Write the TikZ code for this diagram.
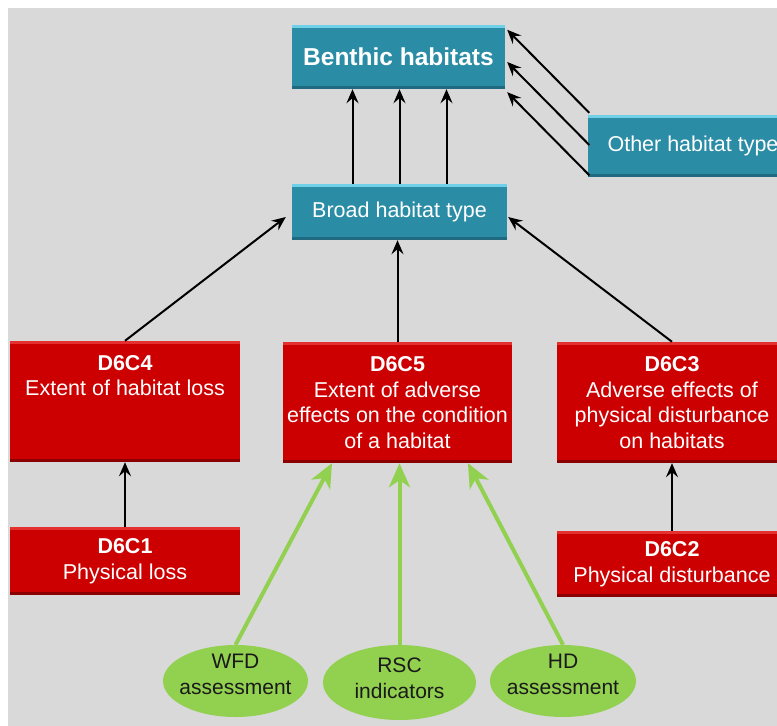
\documentclass[tikz,border=0pt]{standalone}
\usepackage{fontspec}
\setmainfont{Liberation Sans}
\usetikzlibrary{arrows.meta,shapes.geometric,calc}

\definecolor{bggray}{HTML}{D9D9D9}
\definecolor{tealmain}{HTML}{2B8CA6}
\definecolor{teallight}{HTML}{6FD0E8}
\definecolor{tealdark}{HTML}{1F6A80}
\definecolor{redmain}{HTML}{CC0000}
\definecolor{redlight}{HTML}{E53030}
\definecolor{reddark}{HTML}{8A0000}
\definecolor{leaf}{HTML}{92D050}
\definecolor{inkdark}{HTML}{1A1A1A}

\begin{document}
\begin{tikzpicture}[x=1pt,y=-1pt,
  bevel/.style 2 args={path picture={
    \fill[#1] (path picture bounding box.north west) rectangle ([yshift=-3pt]path picture bounding box.north east);
    \fill[#2] ([yshift=3pt]path picture bounding box.south west) rectangle (path picture bounding box.south east);
  }},
  tealbox/.style={rectangle, fill=tealmain, inner sep=0pt, text=white,
    font=\fontsize{21.5}{25}\selectfont, bevel={teallight}{tealdark}},
  redbox/.style={rectangle, fill=redmain, inner sep=0pt, text=white, align=center,
    font=\fontsize{21.5}{25.5}\selectfont, bevel={redlight}{reddark}},
  boxtxt/.style={text=white, align=center, inner sep=0pt, font=\fontsize{21.5}{25.5}\selectfont},
  oval/.style={ellipse, fill=leaf, inner sep=0pt},
  ovaltxt/.style={text=inkdark, align=center, inner sep=0pt, font=\fontsize{21}{26}\selectfont},
  link/.style={draw=black, line width=2pt, -{Stealth[length=14pt,width=12pt,inset=5pt]}},
  feed/.style={draw=leaf, line width=4pt, -{Stealth[length=24pt,width=21pt,inset=7pt]}}
]
\clip (0,0) rectangle (777,726);
\fill[bggray] (8,8) rectangle (777,726);

% habitat boxes
\node[tealbox, minimum width=213pt, minimum height=64pt,
      font=\bfseries\fontsize{24.5}{30}\selectfont] (benthic) at (398.5,57) {Benthic habitats};
\node[tealbox, minimum width=211pt, minimum height=62pt] (other) at (693,146) {Other habitat type};
\node[tealbox, minimum width=215pt, minimum height=56pt] (broad) at (399.5,212) {Broad habitat type};

% criteria boxes
\node[redbox, minimum width=230pt, minimum height=121pt] (c4) at (125,401.5) {};
\node[boxtxt] (c4t) at (125,375.5) {\textbf{D6C4}\\Extent of habitat loss};
\node[redbox, minimum width=229pt, minimum height=121pt] (c5) at (397.5,402.5)
  {\textbf{D6C5}\\Extent of adverse\\effects on the condition\\of a habitat};
\node[redbox, minimum width=230pt, minimum height=121pt] (c3) at (672,402.5)
  {\textbf{D6C3}\\Adverse effects of\\physical disturbance\\on habitats};
\node[redbox, minimum width=230pt, minimum height=68pt] (c1) at (125,561)
  {\textbf{D6C1}\\Physical loss};
\node[redbox, minimum width=230pt, minimum height=66pt] (c2) at (672,564)
  {\textbf{D6C2}\\Physical disturbance};

% assessment sources
\node[oval, minimum width=145pt, minimum height=72pt] (wfd) at (235.5,681) {};
\node[ovaltxt] (wfdt) at (235.5,674) {WFD\\assessment};
\node[oval, minimum width=153pt, minimum height=75pt] (rsc) at (399.5,682.5) {};
\node[ovaltxt] (rsct) at (399.5,678) {RSC\\indicators};
\node[oval, minimum width=146pt, minimum height=72pt] (hd) at (563,681) {};
\node[ovaltxt] (hdt) at (563,674) {HD\\assessment};

% broad type into benthic habitats
\foreach \dx in {-47,0,47}
  \draw[link] ([xshift=\dx pt]broad.north) -- ([xshift=\dx pt]broad.north |- benthic.south);

% other types into benthic habitats
\draw[link] ([xshift=2pt,yshift=2pt]other.north west) -- ([xshift=2pt,yshift=-5pt]benthic.north east);
\draw[link] ([xshift=2pt,yshift=1pt]other.west) -- ([xshift=2pt,yshift=-5pt]benthic.east);
\draw[link] ([xshift=2pt,yshift=2pt]other.south west) -- ([xshift=2pt,yshift=-3pt]benthic.south east);

% criteria into broad type
\draw[link] (c4.north) -- ([xshift=-6pt,yshift=-5pt]broad.west);
\draw[link] (c5.north) -- (c5.north |- broad.south);
\draw[link] (c3.north) -- ([xshift=1pt,yshift=-5pt]broad.east);
\draw[link] (c1.north) -- (c4.south);
\draw[link] (c2.north) -- (c2.north |- c3.south);

% assessments feeding D6C5
\draw[feed] (wfd.north) -- ([xshift=-65.5pt]c5.south);
\draw[feed] (rsc.north) -- (rsc.north |- c5.south);
\draw[feed] (hd.north) -- ([xshift=70.5pt]c5.south);
\end{tikzpicture}
\end{document}
